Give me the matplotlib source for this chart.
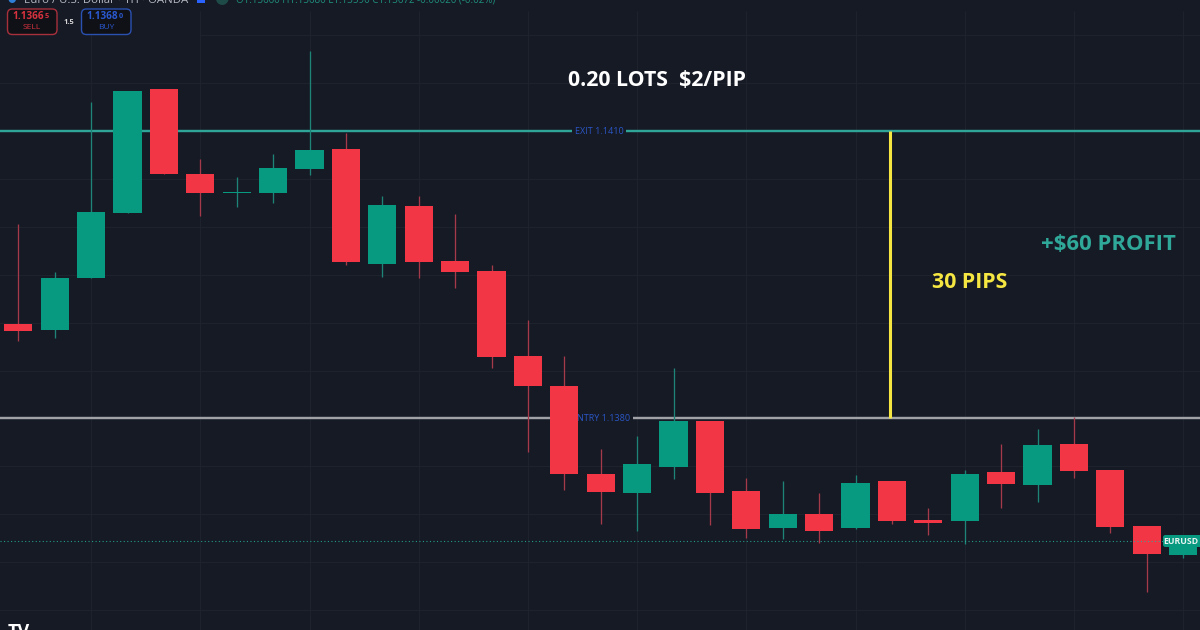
import matplotlib
matplotlib.use("Agg")
import matplotlib.pyplot as plt
from matplotlib.patches import FancyBboxPatch, Rectangle
import numpy as np

plt.rcParams['font.family'] = ['Open Sans', 'DejaVu Sans']

opens = [1.138983, 1.138927, 1.139469, 1.140148, 1.141438, 1.140555, 1.140353, 1.140350, 1.140604, 1.140815, 1.139612,
         1.140217, 1.139644, 1.139539, 1.138655, 1.138342, 1.137421, 1.137226, 1.137494, 1.137977, 1.137240, 1.136857,
         1.137003, 1.136857, 1.137345, 1.136941, 1.136927, 1.137445, 1.137303, 1.137737, 1.137459, 1.136878, 1.136579]
highs = [1.140030, 1.139526, 1.141300, 1.141417, 1.141438, 1.140705, 1.140517, 1.140760, 1.141835, 1.140976, 1.140322,
         1.140322, 1.140137, 1.139599, 1.139025, 1.138652, 1.137682, 1.137821, 1.138527, 1.137977, 1.137382, 1.137345,
         1.137223, 1.137407, 1.137345, 1.137066, 1.137466, 1.137734, 1.137887, 1.138019, 1.137459, 1.136881, 1.136784]
lows = [1.138809, 1.138843, 1.139469, 1.140148, 1.140548, 1.140116, 1.140207, 1.140252, 1.140544, 1.139605, 1.139477,
        1.139463, 1.139365, 1.138527, 1.137647, 1.137257, 1.136899, 1.136829, 1.137369, 1.136886, 1.136753, 1.136746,
        1.136704, 1.136844, 1.136902, 1.136784, 1.136690, 1.137069, 1.137132, 1.137382, 1.136808, 1.136186, 1.136547]
closes = [1.138910, 1.139463, 1.140152, 1.141417, 1.140548, 1.140350, 1.140359, 1.140617, 1.140805, 1.139636, 1.140225,
          1.139636, 1.139532, 1.138642, 1.138336, 1.137424, 1.137233, 1.137522, 1.137977, 1.137226, 1.136850, 1.137003,
          1.136823, 1.137327, 1.136934, 1.136913, 1.137421, 1.137320, 1.137720, 1.137455, 1.136871, 1.136586, 1.136732]

grid_prices = [1.1360, 1.1365, 1.1370, 1.1375, 1.1380, 1.1385, 1.1390, 1.1395, 1.1400, 1.1405, 1.1410, 1.1415]
top_grid_price = 1.1420
grid_candles = [2, 5, 8, 11, 14, 17, 20, 23, 26, 29, 32]
exit_price = 1.1410
entry_price = 1.1380
last_price = 1.136722
pip_marker_pos = 23.95

BG = '#161A25'
GRID = '#1E222D'
GREEN = '#089981'
RED = '#F23645'
LABEL_BLUE = '#2A56C6'

fig = plt.figure(figsize=(12, 6.3), dpi=100, facecolor=BG)
ax = fig.add_axes([0, 0, 1, 1], facecolor=BG)
ax.set_xlim(-0.503, 32.464)
ax.set_ylim(1.135793, 1.142367)
ax.axis('off')

x = np.arange(len(opens))
o, h, l, c = map(np.array, (opens, highs, lows, closes))
up = c >= o
PX = 0.72

# grid
for p in grid_prices:
    ax.axhline(p, color=GRID, lw=PX * 1.2, zorder=1)
ax.hlines(top_grid_price, 5, 33, color=GRID, lw=PX * 1.2, zorder=1)
ax.vlines(grid_candles, 1.135793, top_grid_price + 0.00025, color=GRID, lw=PX * 1.2, zorder=1)

# levels
ax.axhline(exit_price, color='#2FA599', lw=2.4 * PX, zorder=2)
ax.axhline(entry_price, color='#A0A2A8', lw=2.4 * PX, zorder=2)
ax.axhline(last_price, color='#26B09D', lw=PX * 1.1, ls=(0, (1, 2.2)), alpha=0.85, zorder=6)

# level labels
label_box = dict(facecolor=BG, edgecolor='none', pad=2.0)
ax.text(15.95, exit_price, 'EXIT 1.1410', color=LABEL_BLUE, fontsize=6.5,
        ha='center', va='center', bbox=label_box, zorder=3)
ax.text(16.02, entry_price, 'ENTRY 1.1380', color=LABEL_BLUE, fontsize=6.5,
        ha='center', va='center', bbox=label_box, zorder=3)

# candles
ax.vlines(x[up], l[up], h[up], color='#1E8477', lw=PX * 1.3, zorder=4)
ax.vlines(x[~up], l[~up], h[~up], color='#A53B4A', lw=PX * 1.3, zorder=4)
ax.bar(x[up], (c - o)[up], bottom=o[up], width=0.77, color=GREEN, zorder=5, linewidth=0)
ax.bar(x[~up], (o - c)[~up], bottom=c[~up], width=0.77, color=RED, zorder=5, linewidth=0)

# yellow pips marker
ax.vlines(pip_marker_pos, entry_price, exit_price, color='#F5E642', lw=2.2, zorder=7)


def px(xp, yp):
    return xp / 1200, 1 - yp / 630


# annotations
fig.text(*px(568, 86), '0.20 LOTS  $2/PIP', color='white', fontsize=15.4, fontweight='bold', va='baseline')
fig.text(*px(932, 288), '30 PIPS', color='#F5E642', fontsize=15.4, fontweight='bold', va='baseline')
fig.text(*px(1041, 250), '+$60 PROFIT', color='#2FA899', fontsize=15.9, fontweight='bold', va='baseline')

# EURUSD tag
fig.add_artist(FancyBboxPatch(px(1163, 547), 40 / 1200, 12 / 630, transform=fig.transFigure,
                              boxstyle='round,pad=0,rounding_size=0.002', mutation_aspect=1.9,
                              facecolor=GREEN, edgecolor='none', zorder=8))
fig.text(*px(1181, 541), 'EURUSD', color='#E8F5F2', fontsize=6.3, fontweight='bold', ha='center', va='center', zorder=9)

# trade buttons
for x0, edge, top, small, lab, col in [(7, '#A8303C', '1.1366', '5', 'SELL', '#D8323F'),
                                       (81, '#2A50B0', '1.1368', '0', 'BUY', '#2A58D0')]:
    fig.add_artist(FancyBboxPatch(px(x0 + 0.5, 34.5), 49.5 / 1200, 25.5 / 630, transform=fig.transFigure,
                                  boxstyle='round,pad=0,rounding_size=0.004', mutation_aspect=1.9,
                                  facecolor='#101116', edgecolor=edge, lw=1.0))
    fig.text(*px(x0 + 21.5, 16.8), top, color=col, fontsize=7.2, fontweight='bold', ha='center', va='center')
    fig.text(*px(x0 + 39.5, 16), small, color=col, fontsize=5.2, fontweight='bold', ha='center', va='center')
    fig.text(*px(x0 + 25, 27.5), lab, color=col, fontsize=6, ha='center', va='center')
fig.text(*px(69, 22), '1.5', color='#D8D8D8', fontsize=5.4, fontweight='bold', ha='center', va='center')

# clipped header
fig.text(*px(24, 3), 'Euro / U.S. Dollar · 1H · OANDA', color='#B5B8C0', fontsize=8.2, va='baseline')
fig.text(*px(236, 3), 'O1.13660 H1.13680 L1.13590 C1.13672 -0.00020 (-0.02%)', color='#1F8E7E', fontsize=7, va='baseline')
fig.text(*px(12, 2), '●', color='#2F7FD8', fontsize=7, ha='center', va='baseline')
fig.add_artist(Rectangle(px(197, 3), 8 / 1200, 8 / 630, transform=fig.transFigure,
                         facecolor='#2962FF', edgecolor='none'))
fig.text(*px(221, 3), '●', color='#1E4A48', fontsize=12, ha='center', va='baseline')

# logo, cut off by the lower edge
fig.text(*px(8, 637), 'TV', color='white', fontsize=13, fontweight='bold', va='baseline')

fig.savefig('out.png', dpi=100, facecolor=BG)
